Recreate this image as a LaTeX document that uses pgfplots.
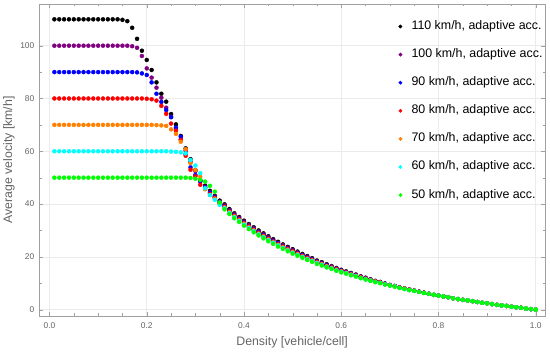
\documentclass[border=0pt]{standalone}
\usepackage{pgfplots}
\usepackage{pgfplotstable}
\pgfplotsset{compat=1.18}
\usepackage{fontspec}
\setmainfont{Liberation Sans}
\definecolor{mmapurple}{rgb}{0.5,0,0.5}
\definecolor{mmaorange}{rgb}{1,0.5,0}
\definecolor{mmablue}{rgb}{0,0,1}
\definecolor{mmared}{rgb}{1,0,0}
\definecolor{mmacyan}{rgb}{0,1,1}
\definecolor{mmagreen}{rgb}{0,1,0}
\definecolor{framegray}{RGB}{160,160,160}
\definecolor{labelgray}{RGB}{100,100,100}
\definecolor{gridgray}{RGB}{235,235,235}

\pgfplotstableread{
rho v110 v100 v90 v80 v70 v60 v50
0.01 110 100 90 80 70 60 50
0.02 110 100 90 80 70 60 50
0.03 110 100 90 80 70 60 50
0.04 110 100 90 80 70 60 50
0.05 110 100 90 80 70 60 50
0.06 110 100 90 80 70 60 50
0.07 110 100 90 80 70 60 50
0.08 110 100 90 80 70 60 50
0.09 110 100 90 80 70 60 50
0.10 110 100 90 80 70 60 50
0.11 110 100 90 80 70 60 50
0.12 110 100 90 80 70 60 50
0.13 110 100 90 80 70 60 50
0.14 110 100 90 80 70 60 50
0.15 109.8 100 90 80 70 60 50
0.16 109.3 100 90 80 70 60 50
0.17 106.8 99.8 90 80 70 60 50
0.18 102.6 99.2 89.9 80 70 60 50
0.19 98.1 96.1 89.5 80 70 60 50
0.20 94.6 91.4 88.9 79.9 70 60 50
0.21 90.8 87.9 86.1 79.7 70 60 50
0.22 86.1 84.1 81.8 79.2 69.9 60 50
0.23 81.8 80.3 78.7 77.2 69.8 60 50
0.24 78.8 76.5 75.6 74.2 69.6 60 50
0.25 74.1 73.1 72.9 70.5 68.3 59.9 50
0.26 70.2 68.5 69.0 67.8 66.6 59.8 50
0.27 65.8 64.5 65.5 64.3 63.6 59.6 50
0.28 61.1 60.2 59.0 58.3 60.8 59.2 50
0.29 57.0 56.0 53.9 53.0 55.5 56.7 49.9
0.30 52.9 52.5 51.0 50.5 52.9 54.6 49.6
0.31 49.0 48.8 48.5 47.3 50.4 51.7 49.2
0.32 47.0 46.5 46.3 45.8 45.6 46.0 48.5
0.33 45.0 44.5 44.2 43.8 43.4 43.4 46.9
0.34 43.1 42.8 42.5 42.3 42.0 41.6 44.7
0.35 41.3 40.9 40.6 40.3 40.0 39.7 40.6
0.36 39.9 39.5 39.2 39.0 38.7 38.4 38.0
0.37 38.1 37.7 37.4 37.2 36.9 36.6 36.2
0.38 36.5 36.1 35.8 35.6 35.3 35.0 34.6
0.39 35.1 34.7 34.4 34.2 33.9 33.6 33.2
0.40 33.7 33.3 33.0 32.8 32.5 32.2 31.8
0.41 32.4 32.0 31.7 31.5 31.2 30.9 30.5
0.42 31.2 30.8 30.5 30.3 30.0 29.7 29.3
0.43 30.0 29.6 29.3 29.1 28.8 28.5 28.1
0.44 28.9 28.5 28.2 28.0 27.7 27.4 27.0
0.45 27.8 27.4 27.1 26.9 26.6 26.3 25.9
0.46 26.7 26.3 26.1 25.8 25.5 25.3 24.9
0.47 25.7 25.3 25.1 24.8 24.5 24.3 23.9
0.48 24.7 24.4 24.1 23.9 23.6 23.3 23.0
0.49 23.8 23.5 23.2 23.0 22.7 22.4 22.1
0.50 22.9 22.6 22.3 22.1 21.8 21.5 21.2
0.51 22.0 21.7 21.4 21.2 21.0 20.7 20.4
0.52 21.1 20.8 20.6 20.4 20.1 19.9 19.6
0.53 20.3 20.0 19.8 19.6 19.3 19.1 18.8
0.54 19.5 19.2 19.0 18.8 18.6 18.4 18.1
0.55 18.6 18.3 18.1 18.0 17.8 17.6 17.3
0.56 18.0 17.7 17.5 17.4 17.2 17.0 16.7
0.57 17.2 17.0 16.8 16.6 16.4 16.2 16.0
0.58 16.5 16.3 16.1 16.0 15.8 15.6 15.4
0.59 15.8 15.6 15.4 15.3 15.1 14.9 14.7
0.60 15.1 14.9 14.8 14.6 14.5 14.3 14.1
0.61 14.5 14.3 14.2 14.1 13.9 13.8 13.6
0.62 13.9 13.7 13.6 13.5 13.3 13.2 13.0
0.63 13.3 13.1 13.0 12.9 12.8 12.7 12.5
0.64 12.6 12.5 12.4 12.3 12.1 12.0 11.9
0.65 12.1 12.0 11.9 11.8 11.6 11.5 11.4
0.66 11.5 11.4 11.3 11.2 11.1 11.0 10.9
0.67 10.9 10.8 10.7 10.7 10.6 10.5 10.4
0.68 10.5 10.4 10.3 10.3 10.2 10.1 10.0
0.69 9.9 9.8 9.8 9.7 9.6 9.6 9.5
0.70 9.4 9.3 9.3 9.3 9.2 9.2 9.1
0.71 9.0 8.9 8.9 8.9 8.8 8.8 8.7
0.72 8.4 8.4 8.3 8.3 8.3 8.2 8.2
0.73 8.0 8.0 7.9 7.9 7.9 7.8 7.8
0.74 7.6 7.6 7.5 7.5 7.5 7.4 7.4
0.75 7.2 7.2 7.2 7.2 7.1 7.1 7.1
0.76 6.8 6.8 6.8 6.8 6.7 6.7 6.7
0.77 6.4 6.4 6.4 6.4 6.3 6.3 6.3
0.78 6.0 6.0 6.0 6.0 6.0 6.0 6.0
0.79 5.6 5.6 5.6 5.6 5.6 5.6 5.6
0.80 5.3 5.3 5.3 5.3 5.3 5.3 5.3
0.81 5.0 5.0 5.0 5.0 5.0 5.0 5.0
0.82 4.7 4.7 4.7 4.7 4.7 4.7 4.7
0.83 4.3 4.3 4.3 4.3 4.3 4.3 4.3
0.84 4.0 4.0 4.0 4.0 4.0 4.0 4.0
0.85 3.7 3.7 3.7 3.7 3.7 3.7 3.7
0.86 3.5 3.5 3.5 3.5 3.5 3.5 3.5
0.87 3.2 3.2 3.2 3.2 3.2 3.2 3.2
0.88 2.9 2.9 2.9 2.9 2.9 2.9 2.9
0.89 2.6 2.6 2.6 2.6 2.6 2.6 2.6
0.90 2.4 2.4 2.4 2.4 2.4 2.4 2.4
0.91 2.1 2.1 2.1 2.1 2.1 2.1 2.1
0.92 1.8 1.8 1.8 1.8 1.8 1.8 1.8
0.93 1.6 1.6 1.6 1.6 1.6 1.6 1.6
0.94 1.4 1.4 1.4 1.4 1.4 1.4 1.4
0.95 1.1 1.1 1.1 1.1 1.1 1.1 1.1
0.96 0.9 0.9 0.9 0.9 0.9 0.9 0.9
0.97 0.7 0.7 0.7 0.7 0.7 0.7 0.7
0.98 0.4 0.4 0.4 0.4 0.4 0.4 0.4
0.99 0.2 0.2 0.2 0.2 0.2 0.2 0.2
1.00 0 0 0 0 0 0 0
}\datatable

\begin{document}
\begin{tikzpicture}
\begin{axis}[
  at={(0,0)}, anchor=south west,
  scale only axis, width=505.7bp, height=311.7bp,
  xmin=-0.021, xmax=1.019, ymin=-2.3, ymax=115.8,
  axis line style={framegray},
  xtick={0,0.2,0.4,0.6,0.8,1.0},
  ytick={0,20,40,60,80,100},
  minor x tick num=3, minor y tick num=1,
  major tick length=4bp, minor tick length=2.5bp,
  tick style={framegray},
  grid=major, major grid style={gridgray, line width=0.6pt},
  /pgf/number format/assume math mode=true,
  xticklabel={\pgfmathprintnumber[fixed,fixed zerofill,precision=1]{\tick}},
  tick label style={font=\fontsize{8.4bp}{10bp}\selectfont, color=labelgray},
  xticklabel style={anchor=base, inner sep=0pt, yshift=-12.3bp},
  yticklabel style={anchor=east, inner sep=0pt, xshift=-4.8bp},
  label style={font=\fontsize{12.3bp}{14bp}\selectfont, color=labelgray},
  xlabel={Density [vehicle/cell]},
  ylabel={Average velocity [km/h]},
  xlabel style={at={(axis description cs:0.5,-0.0972)}, anchor=base, inner sep=0pt},
  ylabel style={at={(axis description cs:-0.0538,0.5)}, anchor=base, inner sep=0pt},
  legend style={at={(1,1)}, anchor=north east, xshift=-2.5bp, yshift=-16.5bp,
    draw=none, fill=none, inner sep=0pt, outer sep=0pt,
    nodes={inner sep=0pt, text height=9bp, text depth=3bp},
    row sep=16.1bp, column sep=9.4bp,
    font=\fontsize{12.4bp}{14bp}\selectfont},
  legend cell align=left,
  legend image code/.code={\draw[#1] plot coordinates {(0bp,0bp)};},
  legend image post style={mark size=1.7bp},
]
\addplot[only marks, mark=*, mark size=2bp, color=black] table[x=rho,y=v110]{\datatable};
\addlegendentry{110 km/h, adaptive acc.}
\addplot[only marks, mark=*, mark size=2bp, color=mmapurple] table[x=rho,y=v100]{\datatable};
\addlegendentry{100 km/h, adaptive acc.}
\addplot[only marks, mark=*, mark size=2bp, color=mmablue] table[x=rho,y=v90]{\datatable};
\addlegendentry{90 km/h, adaptive acc.}
\addplot[only marks, mark=*, mark size=2bp, color=mmared] table[x=rho,y=v80]{\datatable};
\addlegendentry{80 km/h, adaptive acc.}
\addplot[only marks, mark=*, mark size=2bp, color=mmaorange] table[x=rho,y=v70]{\datatable};
\addlegendentry{70 km/h, adaptive acc.}
\addplot[only marks, mark=*, mark size=2bp, color=mmacyan] table[x=rho,y=v60]{\datatable};
\addlegendentry{60 km/h, adaptive acc.}
\addplot[only marks, mark=*, mark size=2bp, color=mmagreen] table[x=rho,y=v50]{\datatable};
\addlegendentry{50 km/h, adaptive acc.}
\end{axis}
\pgfresetboundingbox
\path[use as bounding box] (-39.3bp,-37.3bp) rectangle (510.7bp,315.7bp);
\end{tikzpicture}
\end{document}
